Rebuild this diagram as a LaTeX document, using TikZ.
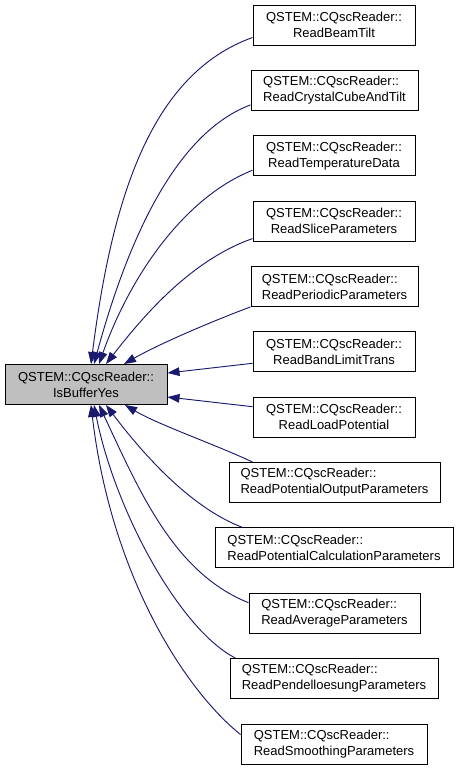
\documentclass[tikz,border=0pt]{standalone}
\usepackage{fontspec}
\setmainfont{Liberation Sans}
\usetikzlibrary{arrows.meta,calc}
\definecolor{edgeblue}{HTML}{191970}
\definecolor{mainfill}{HTML}{BFBFBF}
\newcommand\twol[1]{%
  \setbox0\hbox{QSTEM::CQscReader::}\setbox2\hbox{#1}%
  \dimen0=\wd0 \ifdim\wd2>\dimen0 \dimen0=\wd2\fi
  \vbox{\baselineskip=12pt\hbox to\dimen0{\box0\hfil}\hbox to\dimen0{\hfil\box2\hfil}}}
\tikzset{
  fnbox/.style={draw=black, line width=0.75pt, fill=white, minimum height=30pt,
    inner xsep=0pt, inner ysep=0pt, font=\fontsize{9.75pt}{12pt}\selectfont},
  mainbox/.style={fnbox, fill=mainfill},
  edge/.style={draw=edgeblue, line width=0.7pt, -{Triangle[length=9pt,width=6.5pt]}}
}
\begin{document}
\begin{tikzpicture}[x=0.75pt, y=-0.75pt]
\useasboundingbox (0,0) rectangle (459,769);
\node[mainbox, minimum width=121.5pt] (m) at (86,384.5) {\twol{IsBufferYes}};
\node[fnbox, minimum width=121.5pt] (b1) at (334,25) {\twol{ReadBeamTilt}};
\node[fnbox, minimum width=125.25pt] (b2) at (334.5,90.4) {\twol{ReadCrystalCubeAndTilt}};
\node[fnbox, minimum width=121.5pt] (b3) at (334,155.7) {\twol{ReadTemperatureData}};
\node[fnbox, minimum width=121.5pt] (b4) at (334,221.1) {\twol{ReadSliceParameters}};
\node[fnbox, minimum width=125.25pt] (b5) at (334.5,286.4) {\twol{ReadPeriodicParameters}};
\node[fnbox, minimum width=121.5pt] (b6) at (334,351.8) {\twol{ReadBandLimitTrans}};
\node[fnbox, minimum width=121.5pt] (b7) at (334,417.2) {\twol{ReadLoadPotential}};
\node[fnbox, minimum width=158.25pt] (b8) at (334.5,482.5) {\twol{ReadPotentialOutputParameters}};
\node[fnbox, minimum width=178.5pt] (b9) at (334,547.9) {\twol{ReadPotentialCalculationParameters}};
\node[fnbox, minimum width=128.25pt] (b10) at (334.5,613.2) {\twol{ReadAverageParameters}};
\node[fnbox, minimum width=156pt] (b11) at (334,678.6) {\twol{ReadPendelloesungParameters}};
\node[fnbox, minimum width=139.5pt] (b12) at (334,744) {\twol{ReadSmoothingParameters}};

\draw[edge] ($(b1.south west)+(0,-8)$) .. controls +(-100,36) and +(21.6,-170) .. ($(m.north)+(5,0)$);
\draw[edge] ($(b2.south west)+(0,-6)$) .. controls +(-80,30) and +(30,-110) .. ($(m.north)+(8,0)$);
\draw[edge] ($(b3.south west)+(0,-6)$) .. controls +(-70,28) and +(30,-85) .. ($(m.north)+(13,0)$);
\draw[edge] ($(b4.south west)+(0,-3)$) .. controls +(-63,22) and +(35,-45) .. ($(m.north)+(20,0)$);
\draw[edge] (b5.south west) .. controls +(-40,15) and +(35,-20) .. ($(m.north)+(38,0)$);
\draw[edge] ($(b6.south west)+(0,-9)$) -- ($(m.east)+(0,-11.5)$);
\draw[edge] ($(b7.north west)+(0,10)$) -- ($(m.east)+(0,12.5)$);
\draw[edge] ($(b8.north west)+(24,0)$) .. controls +(-36,-17) and +(34,20) .. ($(m.south)+(39,0)$);
\draw[edge] ($(b9.north west)+(28,0)$) .. controls +(-50,-19) and +(40,53) .. ($(m.south)+(20,0)$);
\draw[edge] ($(b10.north west)+(0,10)$) .. controls +(-75,-30) and +(40,85) .. ($(m.south)+(13,0)$);
\draw[edge] ($(b11.north west)+(6,0)$) .. controls +(-56,-28.6) and +(21,105.5) .. ($(m.south)+(8,0)$);
\draw[edge] ($(b12.north west)+(0,11)$) .. controls +(-56,-45) and +(20,170) .. ($(m.south)+(5,0)$);
\end{tikzpicture}
\end{document}
